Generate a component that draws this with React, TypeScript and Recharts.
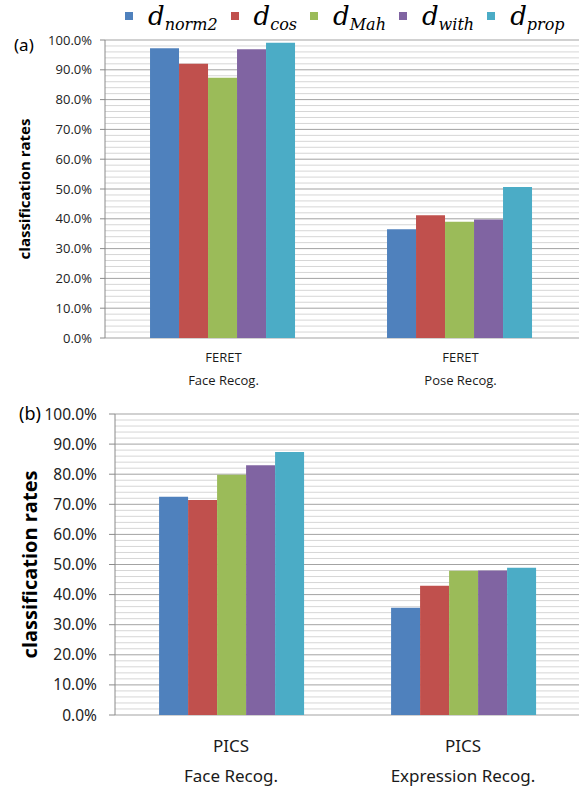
import { Bar, BarChart, CartesianGrid, XAxis, YAxis } from "recharts";

// panel (a): FERET
const categoriesA = ["FERET", "FERET"];
const tasksA = ["Face Recog.", "Pose Recog."];
const norm2A = [97.2, 36.5];
const cosA = [92.0, 41.2];
const mahA = [87.3, 39.0];
const withA = [96.9, 39.8];
const propA = [99.1, 50.7];

// panel (b): PICS
const categoriesB = ["PICS", "PICS"];
const tasksB = ["Face Recog.", "Expression Recog."];
const norm2B = [72.5, 35.6];
const cosB = [71.4, 42.9];
const mahB = [79.8, 47.9];
const withB = [83.0, 48.0];
const propB = [87.4, 48.9];

const seriesKeys = ["norm2", "cos", "Mah", "with", "prop"];
const seriesColors = ["#4F81BD", "#C0504D", "#9BBB59", "#8064A2", "#4BACC6"];
const yTicks = [0, 10, 20, 30, 40, 50, 60, 70, 80, 90, 100];
const minorTicks = [2, 4, 6, 8].flatMap((m) => yTicks.slice(0, 10).map((t) => t + m));

function buildRows(
	categories: string[],
	tasks: string[],
	values: number[][],
) {
	return categories.map((category, i) => {
		const row: Record<string, string | number> = { category, task: tasks[i] };
		seriesKeys.forEach((key, s) => {
			row[key] = values[s][i];
		});
		return row;
	});
}

const dataA = buildRows(categoriesA, tasksA, [norm2A, cosA, mahA, withA, propA]);
const dataB = buildRows(categoriesB, tasksB, [norm2B, cosB, mahB, withB, propB]);

interface PanelProps {
	data: Array<Record<string, string | number>>;
	tag: string;
	height: number;
	marginTop: number;
	xAxisHeight: number;
	yAxisWidth: number;
	tickFont: string;
	tickSize: number;
	tickMargin: number;
	axisTickSize: number;
	titleSize: number;
	titleX: number;
	tagSize: number;
	tagX: number;
	tagDy: number;
	catFont: string;
	catSize: number;
	catLine1: number;
	catLine2: number;
}

function Panel(p: PanelProps) {
	const minorGen = ({ yAxis, offset }: any) =>
		minorTicks.map((v) =>
			yAxis && typeof yAxis.scale === "function"
				? yAxis.scale(v)
				: offset.top + offset.height * (1 - v / 100),
		);

	return (
		<BarChart
			width={579}
			height={p.height}
			data={p.data}
			margin={{ top: p.marginTop, right: 0, bottom: 0, left: 0 }}
			barCategoryGap="19%"
			barGap={0}
		>
			<CartesianGrid
				vertical={false}
				stroke="#d6d6d6"
				horizontalCoordinatesGenerator={minorGen}
			/>
			<CartesianGrid vertical={false} stroke="#a3a3a3" />
			<XAxis
				dataKey="category"
				height={p.xAxisHeight}
				axisLine={false}
				tickLine={false}
				tickSize={0}
				tickMargin={0}
				interval={0}
				tick={(props: any) => {
					const row = p.data[props.index];
					return (
						<g>
							<text
								x={props.x}
								y={props.y + p.catLine1}
								textAnchor="middle"
								fontFamily={p.catFont}
								fontSize={p.catSize}
								fill="#1a1a1a"
							>
								{row.category}
							</text>
							<text
								x={props.x}
								y={props.y + p.catLine2}
								textAnchor="middle"
								fontFamily={p.catFont}
								fontSize={p.catSize}
								fill="#1a1a1a"
							>
								{row.task}
							</text>
						</g>
					);
				}}
			/>
			<YAxis
				width={p.yAxisWidth}
				domain={[0, 100]}
				ticks={yTicks}
				interval={0}
				tickFormatter={(v: number) => `${v.toFixed(1)}%`}
				axisLine={{ stroke: "#8a8a8a" }}
				tickLine={{ stroke: "#8a8a8a" }}
				tickSize={p.axisTickSize}
				tickMargin={p.tickMargin}
				tick={{ fill: "#222", fontFamily: p.tickFont, fontSize: p.tickSize }}
				label={{
					content: ({ viewBox }: any) => {
						const cy = viewBox.y + viewBox.height / 2;
						return (
							<g>
								<text
									x={p.titleX}
									y={cy}
									textAnchor="middle"
									transform={`rotate(-90 ${p.titleX} ${cy})`}
									fontFamily="Open Sans"
									fontWeight="bold"
									fontSize={p.titleSize}
									fill="#000"
								>
									classification rates
								</text>
								<text
									x={p.tagX}
									y={viewBox.y + p.tagDy}
									fontFamily="Noto Sans"
									fontSize={p.tagSize}
									fill="#000"
								>
									{p.tag}
								</text>
							</g>
						);
					},
				}}
			/>
			{seriesKeys.map((key, i) => (
				<Bar
					key={key}
					dataKey={key}
					fill={seriesColors[i]}
					isAnimationActive={false}
				/>
			))}
		</BarChart>
	);
}

function LegendRow() {
	return (
		<div
			style={{
				position: "absolute",
				top: 0,
				left: 125,
				height: 32,
				display: "flex",
				alignItems: "center",
			}}
		>
			{seriesKeys.map((key, i) => (
				<div
					key={key}
					style={{ display: "flex", alignItems: "center", marginRight: 13 }}
				>
					<span
						style={{
							width: 8,
							height: 8,
							background: seriesColors[i],
							marginRight: 15,
						}}
					/>
					<span
						style={{
							fontFamily: "DejaVu Serif",
							fontStyle: "italic",
							fontSize: 26,
							lineHeight: 1,
							color: "#000",
						}}
					>
						d
						<span style={{ fontSize: 16, position: "relative", top: 5 }}>
							{key}
						</span>
					</span>
				</div>
			))}
		</div>
	);
}

export default function App() {
	return (
		<div
			style={{
				position: "absolute",
				left: 0,
				top: 0,
				width: 579,
				height: 792,
				background: "#fff",
				overflow: "hidden",
			}}
		>
			<div style={{ position: "absolute", left: 0, top: 0 }}>
				<Panel
					data={dataA}
					tag="(a)"
					height={395}
					marginTop={40}
					xAxisHeight={57}
					yAxisWidth={105}
					tickFont="Open Sans"
					tickSize={13}
					tickMargin={8}
					axisTickSize={5}
					titleSize={15}
					titleX={30}
					tagSize={17}
					tagX={14}
					tagDy={11}
					catFont="Open Sans"
					catSize={13}
					catLine1={24}
					catLine2={47}
				/>
			</div>
			<div style={{ position: "absolute", left: 0, top: 395 }}>
				<Panel
					data={dataB}
					tag="(b)"
					height={397}
					marginTop={19}
					xAxisHeight={77}
					yAxisWidth={115}
					tickFont="Noto Sans"
					tickSize={15.5}
					tickMargin={12}
					axisTickSize={6}
					titleSize={20}
					titleX={37}
					tagSize={18}
					tagX={19}
					tagDy={6}
					catFont="Noto Sans"
					catSize={17}
					catLine1={37}
					catLine2={67}
				/>
			</div>
			<LegendRow />
		</div>
	);
}
